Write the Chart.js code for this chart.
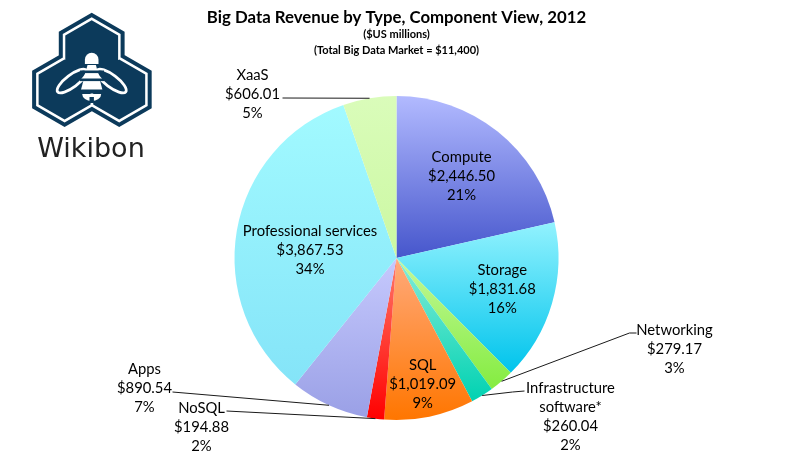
<!DOCTYPE html>
<html><head><meta charset="utf-8">
<script src="https://cdn.jsdelivr.net/npm/chart.js@4"></script>
<style>html,body{margin:0;padding:0;background:#fff;}#wrap{position:relative;width:793px;height:457px;}</style>
</head><body><div id="wrap"><canvas id="c" width="793" height="457"></canvas></div>
<script>
// ---- data ----
const categories = ['Compute','Storage','Networking','Infrastructure software*','SQL','NoSQL','Apps','Professional services','XaaS'];
const revenue = [2446.50, 1831.68, 279.17, 260.04, 1019.09, 194.88, 890.54, 3867.53, 606.01];
const percentLabels = ['21%','16%','3%','2%','9%','2%','7%','34%','5%'];
const titleText = 'Big Data Revenue by Type, Component View, 2012';
const subtitleLines = ['($US millions)', '(Total Big Data Market = $11,400)'];
const logoText = 'Wikibon';

// ---- styles ----
const gradTop =    ['#b2baff','#92f2fe','#c4f89a','#86ecd8','#ffaa7c','#ff7a6a','#c6c9fd','#a2faff','#dafcba'];
const gradBottom = ['#4656cc','#00c4ec','#84ec40','#00d2b2','#ff7600','#ff0000','#9aa0e6','#84e4f8','#cbf8a2'];
// label layout: inside -> [radius fraction, angle tweak deg]; outside -> offsets relative to pie centre
const labelLayout = [
  {inside:true, rf:0.643, da:0},
  {inside:true, rf:0.68, da:0},
  {inside:false, elbow:[233,75], end:[240,75], text:[278,72]},
  {inside:false, elbow:[116,134], end:[128,133], text:[174,130]},
  {inside:true, rf:0.794, da:0},
  {inside:false, elbow:[-170,153], end:[-170,153], text:[-195,150]},
  {inside:false, elbow:[-224,134], end:[-224,134], text:[-252,111]},
  {inside:true, rf:0.536, da:-4.5},
  {inside:false, elbow:[-114,-160], end:[-114,-160], text:[-144,-183]}
];
const LINE_H = 19;
const LABEL_FONT = '14.8px Lato';

function fmtMoney(v){ return '$' + v.toLocaleString('en-US',{minimumFractionDigits:2, maximumFractionDigits:2}); }
function nameLines(n){ return n === 'Infrastructure software*' ? ['Infrastructure','software*'] : [n]; }

const gradPlugin = {
  id:'sliceGradients',
  beforeDatasetsDraw(chart){
    const ctx = chart.ctx;
    chart.getDatasetMeta(0).data.forEach((arc,i)=>{
      const p = arc.getProps(['x','y','startAngle','endAngle','outerRadius'], true);
      const ys = [p.y, p.y + p.outerRadius*Math.sin(p.startAngle), p.y + p.outerRadius*Math.sin(p.endAngle)];
      for (const a of [-Math.PI/2, Math.PI/2, 3*Math.PI/2]) if (a >= p.startAngle && a <= p.endAngle) ys.push(p.y + p.outerRadius*Math.sin(a));
      const top = Math.min(...ys), bot = Math.max(...ys);
      const g = ctx.createLinearGradient(0, top, 0, bot);
      g.addColorStop(0, gradTop[i]); g.addColorStop(1, gradBottom[i]);
      arc.options.backgroundColor = g;
    });
  }
};

const labelPlugin = {
  id:'sliceLabels',
  afterDatasetsDraw(chart){
    const ctx = chart.ctx;
    ctx.save();
    ctx.font = LABEL_FONT; ctx.fillStyle = '#000'; ctx.textAlign = 'center'; ctx.textBaseline = 'middle';
    ctx.strokeStyle = '#1a1a1a'; ctx.lineWidth = 1;
    chart.getDatasetMeta(0).data.forEach((arc,i)=>{
      const p = arc.getProps(['x','y','startAngle','endAngle','outerRadius'], true);
      const mid = (p.startAngle + p.endAngle)/2;
      const lines = [...nameLines(categories[i]), fmtMoney(revenue[i]), percentLabels[i]];
      const L = labelLayout[i];
      if (L.inside){
        const a = mid + L.da*Math.PI/180;
        const cx = p.x + Math.cos(a)*p.outerRadius*L.rf, cy = p.y + Math.sin(a)*p.outerRadius*L.rf;
        const y0 = cy - (lines.length-1)*LINE_H/2;
        lines.forEach((t,k)=>ctx.fillText(t, cx, y0 + k*LINE_H));
      } else {
        ctx.beginPath();
        ctx.moveTo(p.x + Math.cos(mid)*p.outerRadius, p.y + Math.sin(mid)*p.outerRadius);
        ctx.lineTo(p.x + L.elbow[0], p.y + L.elbow[1]);
        ctx.lineTo(p.x + L.end[0], p.y + L.end[1]);
        ctx.stroke();
        lines.forEach((t,k)=>ctx.fillText(t, p.x + L.text[0], p.y + L.text[1] + k*LINE_H));
      }
    });
    ctx.restore();
  }
};

function hexPath(ctx, cx, cy, s){
  for (let k=0;k<6;k++){
    const a = -Math.PI/2 + k*Math.PI/3;
    const px = cx + s*Math.cos(a), py = cy + s*Math.sin(a);
    k ? ctx.lineTo(px,py) : ctx.moveTo(px,py);
  }
  ctx.closePath();
}
const logoPlugin = {
  id:'logo',
  afterDraw(chart){
    const ctx = chart.ctx;
    const navy = '#0c3a5b';
    const hexes = [[91.7,50.7,38],[64.6,89.5,37.5],[119.2,89.5,37.5]];
    ctx.save();
    const layer = (d, color)=>{
      ctx.beginPath();
      hexes.forEach(h=>hexPath(ctx, h[0], h[1], h[2]-d/0.866));
      ctx.fillStyle = color; ctx.fill('nonzero');
    };
    layer(0, navy); layer(4, '#fff'); layer(6.5, navy);
    // wings
    ctx.lineWidth = 2.8; ctx.strokeStyle = '#fff'; ctx.fillStyle = navy;
    [[72,81,-37],[111.4,81,37]].forEach(w=>{
      ctx.beginPath(); ctx.ellipse(w[0], w[1], 18, 6.2, w[2]*Math.PI/180, 0, Math.PI*2);
      ctx.fill(); ctx.stroke();
    });
    // body
    ctx.fillStyle = '#fff';
    ctx.beginPath();
    ctx.moveTo(87.5,65); ctx.lineTo(95.9,65); ctx.lineTo(103,92); ctx.lineTo(80.4,92); ctx.closePath(); ctx.fill();
    ctx.fillStyle = navy;
    ctx.fillRect(80,70.5,24,2.6); ctx.fillRect(80,78.5,24,2.6); ctx.fillRect(78,89.5,28,4);
    // abdomen
    ctx.fillStyle = '#fff';
    ctx.beginPath(); ctx.ellipse(91.7,94,9.5,7,0,0,Math.PI); ctx.fill();
    ctx.fillStyle = navy; ctx.fillRect(89.5,97,4.4,6);
    // head
    ctx.fillStyle = '#fff';
    ctx.beginPath(); ctx.arc(91.7,59.5,6.8,Math.PI,0); ctx.lineTo(98.5,64); ctx.lineTo(84.9,64); ctx.closePath(); ctx.fill();
    // text
    ctx.fillStyle = '#222'; ctx.font = '27px "DejaVu Sans"'; ctx.textAlign = 'center'; ctx.textBaseline = 'alphabetic';
    ctx.fillText(logoText, 91, 157);
    ctx.restore();
  }
};

new Chart(document.getElementById('c'), {
  type:'pie',
  data:{ labels:categories, datasets:[{ data:revenue, backgroundColor:gradBottom, borderWidth:0 }] },
  options:{
    responsive:false, animation:false,
    layout:{ padding:{ top:0, bottom:37, left:0, right:0 } },
    plugins:{
      legend:{ display:false }, tooltip:{ enabled:false },
      title:{ display:true, text:titleText, color:'#000', font:{ family:'Lato', size:16.8, weight:'bold', lineHeight:'17px' }, padding:{ top:9.5, bottom:0 } },
      subtitle:{ display:true, text:subtitleLines, color:'#000', font:{ family:'Lato', size:11, weight:'bold', lineHeight:'16px' }, padding:{ top:0, bottom:37.5 } }
    }
  },
  plugins:[gradPlugin, labelPlugin, logoPlugin]
});
</script></body></html>
